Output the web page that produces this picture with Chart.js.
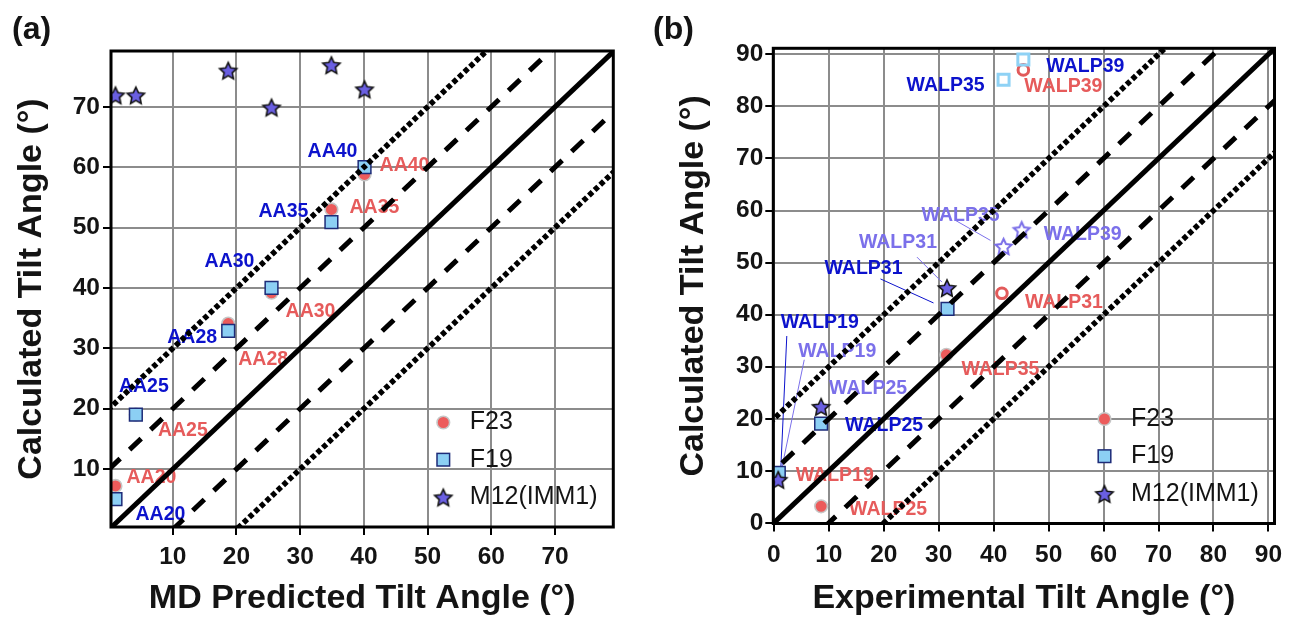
<!DOCTYPE html>
<html><head><meta charset="utf-8">
<script src="https://cdn.jsdelivr.net/npm/chart.js@4.4.0/dist/chart.umd.min.js"></script>
<style>
html,body{margin:0;padding:0;background:#fff;}
#wrapA{position:absolute;left:0;top:0;width:648px;height:620px;}
#wrapB{position:absolute;left:648px;top:0;width:649px;height:620px;}
canvas{display:block;}
</style></head><body>
<div id="wrapA"><canvas id="chartA" width="648" height="620"></canvas></div>
<div id="wrapB"><canvas id="chartB" width="649" height="620"></canvas></div>
<script>
// ================= DATA =================
// Panel (a)
const peptidesA = ['AA20', 'AA25', 'AA28', 'AA30', 'AA35', 'AA40'];
const mdTiltA   = [1.0, 4.2, 18.7, 25.5, 34.9, 40.1];
const f23A      = [7.2, 19.0, 34.1, 39.2, 53.0, 58.8];
const f19A      = [5.0, 19.0, 32.9, 40.0, 50.9, 60.0];
const m12A      = [71.9, 71.9, 76.0, 69.9, 76.9, 72.9];
const ticksA    = [10, 20, 30, 40, 50, 60, 70];

// Panel (b)
const peptidesB = ['WALP19', 'WALP25', 'WALP31', 'WALP35', 'WALP39'];
const expF23B   = [0.9, 8.6, 41.5, 31.4, 45.4];
const f23B      = [9.6, 3.2, 44.1, 32.3, 87.0];
const expF19B   = [0.9, 8.6, 31.6, 41.8, 45.4];
const f19B      = [9.6, 19.1, 41.1, 85.1, 89.0];
const expM12B   = [0.8, 8.6, 31.5, 41.8, 45.1];
const m12B      = [8.3, 22.3, 45.1, 53.1, 56.3];
const ticksB    = [0, 10, 20, 30, 40, 50, 60, 70, 80, 90];

const seriesNames = ['F23', 'F19', 'M12(IMM1)'];
const refOffsets  = [0, 10, -10, 20, -20];   // reference lines y = x + offset
const refRange    = [-10, 110];

// ================= STYLE =================
const FAMILY = "'Liberation Sans', Arial, Helvetica, sans-serif";
const INK = '#141414';
const RED_T = '#e65b5b', BLUE_T = '#0c12cc', PURP_T = '#7b70ea';
const RED_FILL = '#ec5b5b', HALO = '#c6c6c6';
const SQ_FILL = '#8ccff4', SQ_EDGE = '#1d2b78';
const STAR_FILL = '#6a5fe2', STAR_EDGE = '#121212';
const OPEN_RED = '#e25a5a', OPEN_SQ = '#8fd2f5', OPEN_STAR = '#7a6ee8';
const GRID = '#8c8c8c';

const openB = { F23: ['WALP31', 'WALP39'], F19: ['WALP35', 'WALP39'], M12: ['WALP35', 'WALP39'] };

const labelOffsetsA = {
  F19: { AA20: {d: [45, 15]}, AA25: {d: [8, -28]}, AA28: {d: [-36, 7]}, AA30: {d: [-42, -26]}, AA35: {d: [-48, -11]}, AA40: {d: [-32, -16]} },
  F23: { AA20: {d: [36, -8]}, AA25: {d: [47, 16]}, AA28: {d: [35, 36]}, AA30: {d: [39, 19]}, AA35: {d: [43, -2]}, AA40: {d: [40, -9]} }
};
const labelOffsetsB = {
  F19: { WALP19: {d: [41, -150], lead: [8, -137, 2, -4]}, WALP25: {d: [63, 2]}, WALP31: {d: [-84, -40], lead: [-67, -30, -14, -6]}, WALP35: {d: [-58, 6]}, WALP39: {d: [62, 7]} },
  F23: { WALP19: {d: [56, 3]}, WALP25: {d: [67, 3]}, WALP31: {d: [62, 9]}, WALP35: {d: [54, 15]}, WALP39: {d: [40, 17]} },
  M12: { WALP19: {d: [59, -128], lead: [26, -120, 2, -4]}, WALP25: {d: [47, -18]}, WALP31: {d: [-49, -45], lead: [-30, -31, -5, -6]}, WALP35: {d: [-43, -31], lead: [-48, -26, -13, -6]}, WALP39: {d: [61, 5]} }
};

function makeStar(outerR, innerRatio, fill, stroke, lw) {
  const pad = Math.ceil(lw) + 1;
  const size = Math.ceil(2 * outerR + 2 * pad);
  const c = document.createElement('canvas');
  c.width = size; c.height = size;
  const g = c.getContext('2d');
  const cx = size / 2, cy = size / 2 + 0.8;
  g.beginPath();
  for (let k = 0; k < 10; k++) {
    const r = k % 2 === 0 ? outerR : outerR * innerRatio;
    const a = -Math.PI / 2 + k * Math.PI / 5;
    const px = cx + r * Math.cos(a), py = cy + r * Math.sin(a);
    if (k === 0) g.moveTo(px, py); else g.lineTo(px, py);
  }
  g.closePath();
  if (fill) { g.fillStyle = fill; g.fill(); }
  g.lineJoin = 'miter'; g.lineWidth = lw; g.strokeStyle = stroke; g.stroke();
  return c;
}
const STAR_FILLED = makeStar(9, 0.48, STAR_FILL, STAR_EDGE, 1.6);
const STAR_OPEN = makeStar(8.4, 0.48, null, OPEN_STAR, 2);

function drawMarker(ctx, kind, x, y) {
  ctx.save();
  if (kind === 'circle') {
    ctx.beginPath(); ctx.arc(x, y, 6.3, 0, Math.PI * 2);
    ctx.fillStyle = RED_FILL; ctx.fill();
    ctx.lineWidth = 1.6; ctx.strokeStyle = HALO; ctx.stroke();
  } else if (kind === 'rect') {
    ctx.fillStyle = SQ_FILL; ctx.fillRect(x - 6.3, y - 6.3, 12.6, 12.6);
    ctx.lineWidth = 1.5; ctx.strokeStyle = SQ_EDGE; ctx.strokeRect(x - 6.3, y - 6.3, 12.6, 12.6);
  } else {
    ctx.drawImage(STAR_FILLED, x - STAR_FILLED.width / 2, y - STAR_FILLED.height / 2);
  }
  ctx.restore();
}

// ================= PLUGINS =================
const pointLabelPlugin = {
  id: 'pointLabels',
  beforeDatasetsDraw(chart, args, opts) {
    const ctx = chart.ctx;
    ctx.save();
    ctx.font = opts.font;
    ctx.textAlign = 'center';
    ctx.textBaseline = 'middle';
    opts.sets.forEach(set => {
      const meta = chart.getDatasetMeta(set.dataset);
      set.names.forEach((name, i) => {
        const o = set.offsets[name];
        const el = meta.data[i];
        if (!o || !el) return;
        ctx.fillStyle = set.color;
        ctx.strokeStyle = set.color;
        if (o.lead) {
          ctx.lineWidth = 1;
          ctx.beginPath();
          ctx.moveTo(el.x + o.lead[0], el.y + o.lead[1]);
          ctx.lineTo(el.x + o.lead[2], el.y + o.lead[3]);
          ctx.stroke();
        }
        ctx.fillText(name, el.x + o.d[0], el.y + o.d[1]);
      });
    });
    ctx.restore();
  }
};

const framePlugin = {
  id: 'frame',
  afterDatasetsDraw(chart) {
    const {ctx, chartArea: ca} = chart;
    ctx.save();
    ctx.lineWidth = 3;
    ctx.strokeStyle = '#000';
    ctx.strokeRect(ca.left, ca.top, ca.right - ca.left, ca.bottom - ca.top);
    ctx.restore();
  }
};

const innerLegendPlugin = {
  id: 'innerLegend',
  afterDatasetsDraw(chart, args, opts) {
    const {ctx, chartArea: ca} = chart;
    ctx.save();
    opts.items.forEach((it, k) => {
      const y = ca.bottom + opts.rowDy[k];
      drawMarker(ctx, it.kind, ca.right + opts.markerDx, y);
      ctx.font = opts.font;
      ctx.textAlign = 'left';
      ctx.textBaseline = 'middle';
      ctx.fillStyle = INK;
      ctx.fillText(it.text, ca.right + opts.textDx, y);
    });
    ctx.restore();
  }
};

const panelLetterPlugin = {
  id: 'panelLetter',
  afterDraw(chart, args, opts) {
    const ctx = chart.ctx;
    ctx.save();
    ctx.font = 'bold 32px ' + FAMILY;
    ctx.textAlign = 'left';
    ctx.textBaseline = 'middle';
    ctx.fillStyle = INK;
    ctx.fillText(opts.text, opts.x, opts.y);
    ctx.restore();
  }
};

// ================= BUILDERS =================
const tickFont = {family: FAMILY, size: 24.5, weight: 'bold'};
const titleFont = {family: FAMILY, size: 34, weight: 'bold'};
const gridOpts = {color: GRID, lineWidth: 2, drawTicks: true, tickLength: 8, tickWidth: 2, tickColor: '#000'};

function buildScales(c) {
  return {
    x: {
      type: 'linear', position: 'bottom', min: c.xMin, max: c.xMax,
      afterBuildTicks: s => { s.ticks = c.ticks.map(v => ({value: v})); },
      afterFit: s => { s.height = c.xAxisH; },
      grid: gridOpts,
      border: {display: false},
      ticks: {font: tickFont, color: INK, padding: c.xTickPad, maxRotation: 0, autoSkip: false},
      title: {display: true, text: c.xTitle, font: titleFont, color: INK, padding: {top: 0, bottom: c.xTitlePad}}
    },
    y: {
      type: 'linear', position: 'left', min: c.yMin, max: c.yMax,
      afterBuildTicks: s => { s.ticks = c.ticks.map(v => ({value: v})); },
      afterFit: s => { s.width = c.yAxisW; },
      grid: gridOpts,
      border: {display: false},
      ticks: {font: tickFont, color: INK, padding: c.yTickPad, autoSkip: false},
      title: {display: true, text: 'Calculated Tilt Angle (°)', font: titleFont, color: INK, padding: {top: c.yTitlePad, bottom: 0}}
    }
  };
}

function refLineDatasets() {
  const dashes = [[], [16, 13], [16, 13], [5, 2.8], [5, 2.8]];
  return refOffsets.map((off, k) => ({
    type: 'line',
    order: 0,
    data: refRange.map(x => ({x: x, y: x + off})),
    borderColor: '#000',
    borderWidth: k >= 3 ? 5.5 : 5,
    borderDash: dashes[k],
    borderCapStyle: 'butt',
    pointRadius: 0,
    fill: false,
    tension: 0,
    clip: 0
  }));
}

function pts(xs, ys) { return xs.map((x, i) => ({x: x, y: ys[i]})); }

const legendItems = [
  {kind: 'circle', text: seriesNames[0]},
  {kind: 'rect', text: seriesNames[1]},
  {kind: 'star', text: seriesNames[2]}
];
const legendOpts = {items: legendItems, font: '25px ' + FAMILY, markerDx: -170, textDx: -143.5, rowDy: [-104.5, -67.3, -29.6]};

Chart.defaults.font.family = FAMILY;

// ================= CHART A =================
new Chart(document.getElementById('chartA'), {
  type: 'scatter',
  data: {
    datasets: [
      ...refLineDatasets(),
      {label: seriesNames[2], order: 1, data: pts(mdTiltA, m12A), pointStyle: STAR_FILLED, pointRadius: 9},
      {label: seriesNames[1], order: 2, data: pts(mdTiltA, f19A), pointStyle: 'rect', pointRadius: 9,
        pointBackgroundColor: SQ_FILL, pointBorderColor: SQ_EDGE, pointBorderWidth: 1.5},
      {label: seriesNames[0], order: 3, data: pts(mdTiltA, f23A), pointStyle: 'circle', pointRadius: 6.3,
        pointBackgroundColor: RED_FILL, pointBorderColor: HALO, pointBorderWidth: 1.6}
    ]
  },
  options: {
    responsive: false, animation: false, devicePixelRatio: 1, events: [],
    layout: {padding: {left: 0, top: 51, right: 34.7, bottom: 0}},
    scales: buildScales({xMin: 0.3, xMax: 79.15, yMin: 0.4, yMax: 79.25, ticks: ticksA,
      xAxisH: 93, yAxisW: 111, xTickPad: 8, yTickPad: 3, xTitlePad: 0.6, yTitlePad: 11.6,
      xTitle: 'MD Predicted Tilt Angle (°)'}),
    plugins: {
      legend: {display: false}, tooltip: {enabled: false},
      pointLabels: {font: 'bold 19.5px ' + FAMILY, sets: [
        {dataset: 6, names: peptidesA, color: BLUE_T, offsets: labelOffsetsA.F19},
        {dataset: 7, names: peptidesA, color: RED_T, offsets: labelOffsetsA.F23}
      ]},
      innerLegend: legendOpts,
      panelLetter: {text: '(a)', x: 12, y: 30}
    }
  },
  plugins: [pointLabelPlugin, framePlugin, innerLegendPlugin, panelLetterPlugin]
});

// ================= CHART B =================
const isOpen = (key) => (ctx) => openB[key].includes(peptidesB[ctx.dataIndex]);
new Chart(document.getElementById('chartB'), {
  type: 'scatter',
  data: {
    datasets: [
      ...refLineDatasets(),
      {label: seriesNames[2], order: 1, data: pts(expM12B, m12B), pointRadius: 9,
        pointStyle: c => isOpen('M12')(c) ? STAR_OPEN : STAR_FILLED},
      {label: seriesNames[1], order: 2, data: pts(expF19B, f19B), pointStyle: 'rect',
        pointRadius: c => isOpen('F19')(c) ? 7.8 : 9,
        pointBackgroundColor: c => isOpen('F19')(c) ? 'rgba(255,255,255,0)' : SQ_FILL,
        pointBorderColor: c => isOpen('F19')(c) ? OPEN_SQ : SQ_EDGE,
        pointBorderWidth: c => isOpen('F19')(c) ? 3 : 1.5},
      {label: seriesNames[0], order: 3, data: pts(expF23B, f23B), pointStyle: 'circle',
        pointRadius: c => isOpen('F23')(c) ? 5.3 : 6.3,
        pointBackgroundColor: c => isOpen('F23')(c) ? 'rgba(255,255,255,0)' : RED_FILL,
        pointBorderColor: c => isOpen('F23')(c) ? OPEN_RED : HALO,
        pointBorderWidth: c => isOpen('F23')(c) ? 3 : 1.6}
    ]
  },
  options: {
    responsive: false, animation: false, devicePixelRatio: 1, events: [],
    layout: {padding: {left: 0, top: 48.3, right: 22.5, bottom: 0}},
    scales: buildScales({xMin: -0.1, xMax: 91.1, yMin: -0.1, yMax: 91.15, ticks: ticksB,
      xAxisH: 96.5, yAxisW: 125.3, xTickPad: 9, yTickPad: 2, xTitlePad: 0.6, yTitlePad: 24.9,
      xTitle: 'Experimental Tilt Angle (°)'}),
    plugins: {
      legend: {display: false}, tooltip: {enabled: false},
      pointLabels: {font: 'bold 19.5px ' + FAMILY, sets: [
        {dataset: 6, names: peptidesB, color: BLUE_T, offsets: labelOffsetsB.F19},
        {dataset: 7, names: peptidesB, color: RED_T, offsets: labelOffsetsB.F23},
        {dataset: 5, names: peptidesB, color: PURP_T, offsets: labelOffsetsB.M12}
      ]},
      innerLegend: legendOpts,
      panelLetter: {text: '(b)', x: 5, y: 30}
    }
  },
  plugins: [pointLabelPlugin, framePlugin, innerLegendPlugin, panelLetterPlugin]
});
</script>
</body></html>
